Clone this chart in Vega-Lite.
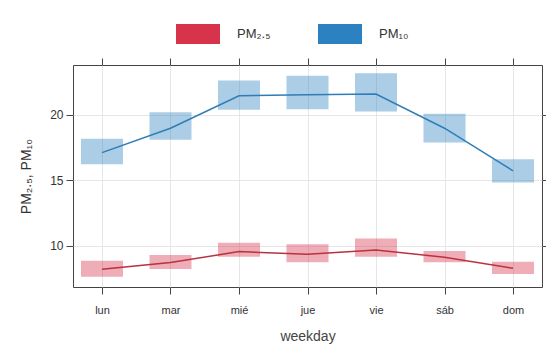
{
  "$schema": "https://vega.github.io/schema/vega-lite/v6.json",
  "autosize": "none",
  "width": 469,
  "height": 222,
  "padding": {"left": 73, "top": 65, "right": 4, "bottom": 58},
  "background": "white",
  "config": {
    "font": "Liberation Sans",
    "view": {"stroke": "#444444", "strokeWidth": 1},
    "axis": {"labelColor": "#333333", "titleColor": "#333333", "tickColor": "#444444", "domain": false, "gridColor": "#e6e6e6", "labelFontSize": 11, "titleFontSize": 14, "titleFontWeight": "normal", "tickSize": 7}
  },
  "data": {"values": [
    {"day": "lun", "pol": "PM₂.₅", "mean": 8.22, "lower": 7.66, "upper": 8.88},
    {"day": "mar", "pol": "PM₂.₅", "mean": 8.73, "lower": 8.24, "upper": 9.31},
    {"day": "mié", "pol": "PM₂.₅", "mean": 9.57, "lower": 9.18, "upper": 10.25},
    {"day": "jue", "pol": "PM₂.₅", "mean": 9.37, "lower": 8.76, "upper": 10.13},
    {"day": "vie", "pol": "PM₂.₅", "mean": 9.69, "lower": 9.18, "upper": 10.56},
    {"day": "sáb", "pol": "PM₂.₅", "mean": 9.14, "lower": 8.76, "upper": 9.62},
    {"day": "dom", "pol": "PM₂.₅", "mean": 8.30, "lower": 7.86, "upper": 8.80},
    {"day": "lun", "pol": "PM₁₀", "mean": 17.12, "lower": 16.24, "upper": 18.17},
    {"day": "mar", "pol": "PM₁₀", "mean": 18.98, "lower": 18.09, "upper": 20.2},
    {"day": "mié", "pol": "PM₁₀", "mean": 21.45, "lower": 20.38, "upper": 22.62},
    {"day": "jue", "pol": "PM₁₀", "mean": 21.53, "lower": 20.43, "upper": 22.98},
    {"day": "vie", "pol": "PM₁₀", "mean": 21.58, "lower": 20.25, "upper": 23.18},
    {"day": "sáb", "pol": "PM₁₀", "mean": 18.98, "lower": 17.89, "upper": 20.08},
    {"day": "dom", "pol": "PM₁₀", "mean": 15.73, "lower": 14.83, "upper": 16.62}
  ]},
  "layer": [
    {
      "mark": {"type": "bar", "size": 42, "fillOpacity": 0.4, "strokeWidth": 0},
      "encoding": {
        "x": {"field": "day", "type": "ordinal", "sort": ["lun", "mar", "mié", "jue", "vie", "sáb", "dom"],
          "scale": {"type": "point", "padding": 0.423},
          "axis": {"title": "weekday", "labelAngle": 0, "grid": true, "labelPadding": 10, "titlePadding": 14, "titleColor": "#444444"}},
        "y": {"field": "lower", "type": "quantitative", "scale": {"domain": [6.87, 23.8], "nice": false, "zero": false},
          "axis": {"title": "PM₂.₅, PM₁₀", "values": [10, 15, 20], "grid": true, "labelPadding": 3, "titlePadding": 16, "labelFontSize": 12, "titleFontSize": 14}},
        "y2": {"field": "upper"},
        "fill": {"field": "pol", "type": "nominal", "sort": ["PM₂.₅", "PM₁₀"],
          "scale": {"domain": ["PM₂.₅", "PM₁₀"], "range": ["#d7334a", "#2c82c1"]},
          "legend": {"title": null, "orient": "none", "direction": "horizontal", "legendX": 103, "legendY": -53,
            "symbolType": "M-1,-0.4545H1V0.4545H-1Z", "symbolSize": 1936, "symbolOpacity": 1,
            "symbolStrokeWidth": 0, "labelFontSize": 13, "labelOffset": 17, "columnPadding": 47, "labelColor": "#333333"}}
      }
    },
    {
      "mark": {"type": "line", "strokeWidth": 1.5},
      "encoding": {
        "x": {"field": "day", "type": "ordinal", "sort": ["lun", "mar", "mié", "jue", "vie", "sáb", "dom"],
          "axis": {"labels": false, "title": null, "grid": false}},
        "y": {"field": "mean", "type": "quantitative",
          "axis": {"labels": false, "title": null, "grid": false, "values": [10, 15, 20]}},
        "stroke": {"field": "pol", "type": "nominal",
          "scale": {"domain": ["PM₂.₅", "PM₁₀"], "range": ["#b8323f", "#2f7db6"]}, "legend": null}
      }
    }
  ],
  "resolve": {"axis": {"x": "independent", "y": "independent"}}
}
